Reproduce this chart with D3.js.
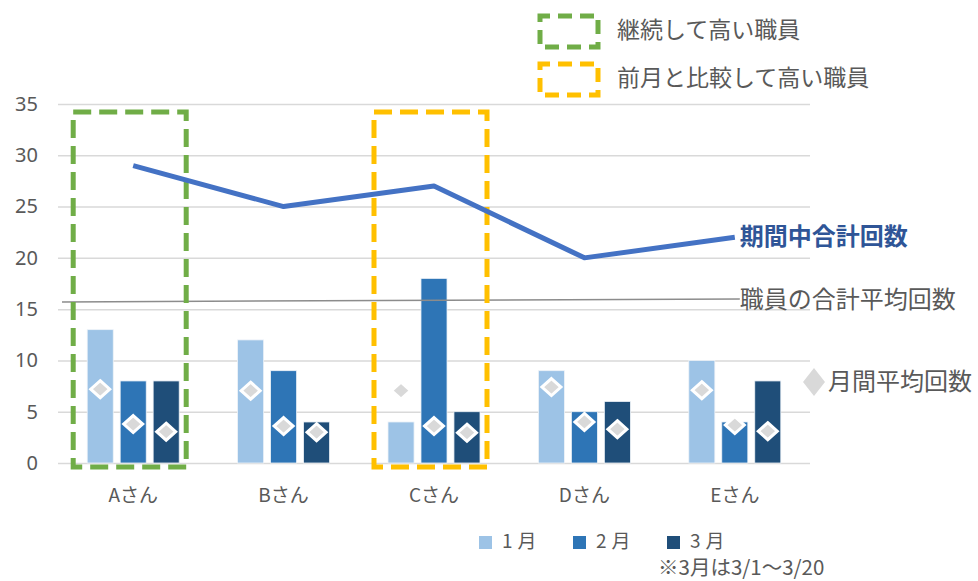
<!DOCTYPE html>
<html>
<head>
<meta charset="utf-8">
<script src="https://cdn.jsdelivr.net/npm/d3@7"></script>
<style>
  body { margin: 0; background: #fff; }
  svg { display: block; font-family: "Noto Sans CJK JP", "Noto Sans", sans-serif; }
</style>
</head>
<body>
<div id="chart"></div>
<script>
// Staff counts per month, monthly averages and totals.
const people = ['Aさん', 'Bさん', 'Cさん', 'Dさん', 'Eさん'];
const months = ['1月', '2月', '3月'];
const janCounts = [13, 12, 4, 9, 10];
const febCounts = [8, 9, 18, 5, 4];
const marCounts = [8, 4, 5, 6, 8];
const janAvg = [7.2, 7.05, 7.05, 7.4, 7.1];
const febAvg = [3.8, 3.6, 3.6, 4.0, 3.7];
const marAvg = [3.05, 3.0, 2.95, 3.3, 3.1];
const totals = [29, 25, 27, 20, 22];
const staffAvgTotal = [15.7, 16.0]; // left end, right end
const yTicks = [0, 5, 10, 15, 20, 25, 30, 35];
const steadyHigh = ['Aさん'];
const risingHigh = ['Cさん'];

const monthColors = ['#9DC3E6', '#2E75B6', '#1F4E79'];
const textColor = '#595959';

const width = 978, height = 581;
const plot = { left: 58, right: 810, top: 104, bottom: 463 };

const svg = d3.select('#chart').append('svg')
    .attr('width', width)
    .attr('height', height);

const x0 = d3.scaleBand().domain(people).range([plot.left, plot.right]).padding(0);
const groupW = 92;
const groupOff = (x0.bandwidth() - groupW) / 2;
const x1 = d3.scaleBand().domain(months).range([groupOff, groupOff + groupW]).paddingInner(0.21);
const y = d3.scaleLinear().domain([0, 35]).range([plot.bottom, plot.top]);
const cx = p => x0(p) + x0.bandwidth() / 2;

// gridlines + y labels
const yAxis = d3.axisLeft(y).tickValues(yTicks).tickSize(-(plot.right - plot.left)).tickPadding(20);
const yG = svg.append('g').attr('transform', `translate(${plot.left},0)`).call(yAxis);
yG.select('.domain').remove();
yG.selectAll('.tick line').attr('stroke', '#D9D9D9').attr('stroke-width', 1.5);
yG.selectAll('.tick text').attr('fill', textColor).attr('font-size', 20).attr('x', -20)
    .style('font-family', '"Noto Sans", "Noto Sans CJK JP", sans-serif');

// x labels
svg.append('g').selectAll('text')
    .data(people)
    .join('text')
    .attr('x', d => cx(d))
    .attr('y', 497)
    .attr('text-anchor', 'middle')
    .attr('dominant-baseline', 'middle')
    .attr('font-size', 19)
    .attr('fill', textColor)
    .text(d => d);

// bars
const rows = people.map((p, i) => ({
    person: p,
    vals: [janCounts[i], febCounts[i], marCounts[i]],
    avgs: [janAvg[i], febAvg[i], marAvg[i]]
}));

const groups = svg.append('g').selectAll('g')
    .data(rows)
    .join('g')
    .attr('transform', d => `translate(${x0(d.person)},0)`);

groups.selectAll('rect')
    .data(d => months.map((m, j) => ({ m, v: d.vals[j], j })))
    .join('rect')
    .attr('x', d => x1(d.m))
    .attr('width', x1.bandwidth())
    .attr('y', d => y(d.v))
    .attr('height', d => y(0) - y(d.v))
    .attr('fill', d => monthColors[d.j])
    .attr('stroke', '#eef3f8')
    .attr('stroke-width', 0.8);

// total staff average (thin grey)
const avgEndX = cx(people[people.length - 1]) + 5;
svg.append('line')
    .attr('x1', plot.left + 4)
    .attr('y1', y(staffAvgTotal[0]))
    .attr('x2', avgEndX)
    .attr('y2', y(staffAvgTotal[1]))
    .attr('stroke', '#8C8C8C')
    .attr('stroke-width', 1.5);

// dashed highlight boxes
function highlight(list, color) {
    svg.append('g').selectAll('rect')
        .data(list)
        .join('rect')
        .attr('x', d => x0(d) + groupOff - 14)
        .attr('y', y(35) + 8)
        .attr('width', groupW + 21)
        .attr('height', y(0) + 4 - (y(35) + 8))
        .attr('fill', 'none')
        .attr('stroke', color)
        .attr('stroke-width', 5)
        .attr('stroke-dasharray', '18,8');
}
highlight(steadyHigh, '#70AD47');
highlight(risingHigh, '#FFC000');

// total line
const line = d3.line().x(d => cx(d.p)).y(d => y(d.v));
svg.append('path')
    .datum(people.map((p, i) => ({ p, v: totals[i] })))
    .attr('d', line)
    .attr('fill', 'none')
    .attr('stroke', '#4472C4')
    .attr('stroke-width', 5)
    .attr('stroke-linejoin', 'round');

// monthly average diamonds
const diamond = (hw, hh) => `M0,${-hh}L${hw},0L0,${hh}L${-hw},0Z`;
groups.selectAll('path')
    .data(d => months.map((m, j) => ({ m, v: d.avgs[j] })))
    .join('path')
    .attr('transform', d => `translate(${x1(d.m) + x1.bandwidth() / 2},${y(d.v)})`)
    .attr('d', diamond(9.5, 8.5))
    .attr('fill', '#D9D9D9')
    .attr('stroke', '#fff')
    .attr('stroke-width', 3);

// series labels on the right
const lastP = people[people.length - 1];
svg.append('text')
    .attr('x', cx(lastP) + 5)
    .attr('y', y(totals[totals.length - 1]) + 1)
    .attr('dominant-baseline', 'middle')
    .attr('font-size', 24)
    .attr('font-weight', 'bold')
    .attr('fill', '#2F5597')
    .text('期間中合計回数');

svg.append('text')
    .attr('x', avgEndX)
    .attr('y', y(staffAvgTotal[1]) + 3)
    .attr('dominant-baseline', 'middle')
    .attr('font-size', 24)
    .attr('fill', textColor)
    .text('職員の合計平均回数');

svg.append('path')
    .attr('transform', 'translate(814,382)')
    .attr('d', diamond(11, 14))
    .attr('fill', '#D9D9D9');
svg.append('text')
    .attr('x', 828)
    .attr('y', 383)
    .attr('dominant-baseline', 'middle')
    .attr('font-size', 24)
    .attr('fill', textColor)
    .text('月間平均回数');

// top legend for highlight boxes
const boxLegend = [
    { label: '継続して高い職員', color: '#70AD47', y: 16 },
    { label: '前月と比較して高い職員', color: '#FFC000', y: 64 }
];
const bl = svg.append('g').selectAll('g')
    .data(boxLegend)
    .join('g')
    .attr('transform', d => `translate(540,${d.y})`);
bl.append('rect')
    .attr('width', 58)
    .attr('height', 31)
    .attr('fill', 'none')
    .attr('stroke', d => d.color)
    .attr('stroke-width', 5)
    .attr('stroke-dasharray', '14,8')
    .attr('stroke-dashoffset', 4);
bl.append('text')
    .attr('x', 77)
    .attr('y', 16)
    .attr('dominant-baseline', 'middle')
    .attr('font-size', 23)
    .attr('fill', textColor)
    .text(d => d.label);

// bottom month legend
const ml = svg.append('g').selectAll('g')
    .data(months)
    .join('g')
    .attr('transform', (d, i) => `translate(${479 + i * 94},536)`);
ml.append('rect')
    .attr('width', 13)
    .attr('height', 13)
    .attr('fill', (d, i) => monthColors[i]);
ml.append('text')
    .attr('x', 23)
    .attr('y', 7)
    .attr('dominant-baseline', 'middle')
    .attr('font-size', 19)
    .attr('letter-spacing', 5)
    .attr('fill', textColor)
    .text(d => d);

svg.append('text')
    .attr('x', 658)
    .attr('y', 569)
    .attr('dominant-baseline', 'middle')
    .attr('font-size', 20.5)
    .attr('fill', textColor)
    .text('※3月は3/1～3/20');
</script>
</body>
</html>
